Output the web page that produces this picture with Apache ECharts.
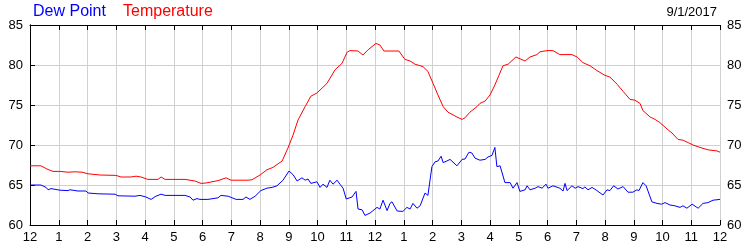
<!DOCTYPE html>
<html><head><meta charset="utf-8">
<script src="https://cdn.jsdelivr.net/npm/echarts@6/dist/echarts.min.js"></script>
<style>html,body{margin:0;padding:0;background:#fff}#c{width:750px;height:250px}</style>
</head><body><div id="c"></div>
<script>
const tickLabels = ['12','1','2','3','4','5','6','7','8','9','10','11','12','1','2','3','4','5','6','7','8','9','10','11','12'];
const yTicks = [60,65,70,75,80,85];
const dateText = '9/1/2017';

// hours since midnight, temperature (°F)
const tempHours = [0,0.38,0.59,0.80,1.04,1.32,1.57,1.81,2.02,2.43,2.99,3.17,3.51,3.69,3.86,4.10,4.45,4.56,4.70,5.39,5.74,5.95,6.12,6.54,6.82,6.99,7.58,7.72,8.0,8.24,8.45,8.77,8.97,9.15,9.32,9.57,9.77,9.98,10.33,10.61,10.85,11.03,11.13,11.41,11.58,11.76,12.03,12.17,12.31,12.52,12.83,13.04,13.22,13.39,13.67,13.84,14.02,14.19,14.37,14.54,14.85,15.03,15.13,15.30,15.55,15.65,15.83,16.0,16.17,16.31,16.45,16.63,16.90,17.22,17.39,17.63,17.74,17.98,18.19,18.43,18.85,19.03,19.23,19.48,19.72,20.0,20.17,20.42,20.63,20.87,21.04,21.22,21.32,21.57,21.74,21.91,22.16,22.33,22.54,22.71,22.89,23.06,23.30,23.58,23.90,24.0];
const tempValues = [67.4,67.4,67.0,66.7,66.7,66.6,66.65,66.6,66.4,66.25,66.2,66.0,66.0,66.1,66.0,65.7,65.7,66.0,65.7,65.7,65.5,65.2,65.25,65.55,65.9,65.6,65.6,65.65,66.25,66.9,67.2,68.0,69.6,71.25,73.1,74.8,76.1,76.5,77.7,79.4,80.2,81.6,81.8,81.75,81.25,81.9,82.7,82.5,81.75,81.75,81.75,80.7,80.5,80.1,79.8,79.2,77.7,76.25,74.8,74.1,73.5,73.2,73.4,74.1,74.8,75.2,75.5,76.25,77.5,78.7,79.9,80.1,81.0,80.5,81.0,81.3,81.65,81.8,81.8,81.3,81.3,81.0,80.3,79.9,79.3,78.7,78.5,77.6,76.7,75.7,75.6,75.2,74.3,73.5,73.2,72.8,72.0,71.5,70.7,70.6,70.3,70.0,69.7,69.4,69.25,69.1];

// hours since midnight, dew point (°F)
const dewHours = [0,0.38,0.56,0.63,0.73,0.97,1.04,1.32,1.39,1.67,1.95,2.02,2.37,2.96,3.06,3.65,3.83,4.03,4.21,4.38,4.56,4.70,5.39,5.57,5.67,5.81,5.91,6.19,6.54,6.64,6.89,7.17,7.41,7.51,7.65,7.83,8.03,8.24,8.42,8.59,8.80,9.01,9.15,9.29,9.46,9.57,9.67,9.77,9.98,10.09,10.19,10.33,10.43,10.54,10.68,10.78,10.89,11.0,11.20,11.34,11.41,11.55,11.65,11.83,12.07,12.17,12.28,12.42,12.52,12.59,12.77,12.97,13.11,13.22,13.32,13.46,13.57,13.74,13.84,13.98,14.09,14.19,14.30,14.37,14.50,14.61,14.85,15.03,15.13,15.27,15.37,15.48,15.65,15.83,15.93,16.07,16.17,16.24,16.35,16.52,16.70,16.80,16.94,17.04,17.22,17.29,17.39,17.57,17.67,17.81,17.95,18.02,18.19,18.43,18.54,18.61,18.68,18.85,18.96,19.06,19.23,19.30,19.41,19.55,19.72,19.93,20.07,20.17,20.30,20.45,20.63,20.80,20.97,21.11,21.18,21.32,21.43,21.63,21.81,21.97,22.09,22.26,22.43,22.61,22.71,22.85,23.03,23.24,23.41,23.58,23.76,24.0];
const dewValues = [65.0,65.0,64.7,64.4,64.55,64.4,64.35,64.3,64.4,64.25,64.25,64.0,63.9,63.85,63.65,63.6,63.7,63.5,63.2,63.6,63.85,63.7,63.7,63.5,63.1,63.3,63.2,63.2,63.4,63.7,63.6,63.2,63.2,63.5,63.2,63.6,64.3,64.6,64.7,64.9,65.6,66.75,66.3,65.5,65.9,65.6,65.75,65.2,65.4,64.7,65.1,64.7,65.6,65.1,65.6,65.1,64.6,63.25,63.5,64.2,62.0,61.9,61.2,61.5,62.2,62.0,63.1,61.8,62.7,62.9,61.75,61.7,62.2,62.0,62.7,62.1,62.4,64.0,63.7,67.3,67.9,68.0,68.6,67.8,68.0,68.2,67.4,68.2,68.25,69.1,69.0,68.35,68.1,68.2,68.5,68.7,69.7,67.3,67.4,65.3,65.3,64.6,65.3,64.2,64.4,64.9,64.4,64.6,64.8,64.6,65.1,64.6,64.9,64.6,64.25,65.2,64.3,64.9,64.6,64.8,64.55,64.75,64.4,64.7,64.3,63.75,64.4,64.3,64.9,64.5,64.8,64.1,64.1,64.4,64.3,65.3,64.9,62.9,62.7,62.6,62.8,62.5,62.4,62.2,62.4,62.1,62.6,62.1,62.7,62.8,63.1,63.2];

const FONT = '"Liberation Sans", Arial, sans-serif';
const zip = (a, b) => a.map((v, i) => [v, b[i]]);
const chart = echarts.init(document.getElementById('c'), null, {renderer: 'canvas'});
const gridCol = '#d0d0d0';
const yAxisBase = {
  type: 'value', min: yTicks[0], max: yTicks[yTicks.length - 1], interval: 5,
  axisLine: {show: true, lineStyle: {color: '#000', width: 1}},
  axisTick: {show: true, length: 5, lineStyle: {color: '#000'}},
  axisLabel: {color: '#000', fontSize: 13, fontFamily: FONT, margin: 7},
  splitLine: {show: false}
};
chart.setOption({
  animation: false,
  backgroundColor: '#fff',
  grid: {left: 30, right: 30, top: 25, bottom: 25, containLabel: false},
  graphic: [
    {type: 'text', left: 33, top: 4, style: {text: 'Dew Point', fill: '#0000ff', font: '16px ' + FONT}},
    {type: 'text', left: 123, top: 4, style: {text: 'Temperature', fill: '#ff0000', font: '16px ' + FONT}},
    {type: 'text', right: 33, top: 6, style: {text: dateText, fill: '#000', font: '13px ' + FONT}}
  ],
  xAxis: [
    {type: 'value', min: 0, max: 24, interval: 1, position: 'bottom',
     axisLine: {show: true, onZero: false, lineStyle: {color: '#000'}},
     axisTick: {show: true, inside: true, length: 5, lineStyle: {color: '#000'}},
     axisLabel: {color: '#000', fontSize: 13, fontFamily: FONT, margin: 6, showMinLabel: true, showMaxLabel: true,
       formatter: v => tickLabels[Math.round(v)]},
     splitLine: {show: true, lineStyle: {color: gridCol, width: 1}}},
    {type: 'value', min: 0, max: 24, interval: 1, position: 'top',
     axisLine: {show: true, onZero: false, lineStyle: {color: '#000'}},
     axisTick: {show: true, inside: true, length: 5, lineStyle: {color: '#000'}},
     axisLabel: {show: false}, splitLine: {show: false}}
  ],
  yAxis: [
    Object.assign({}, yAxisBase, {position: 'left', axisTick: {show: true, inside: true, length: 5, lineStyle: {color: '#000'}},
      splitLine: {show: true, lineStyle: {color: gridCol, width: 1}}}),
    Object.assign({}, yAxisBase, {position: 'right', axisTick: {show: true, inside: false, length: 5, lineStyle: {color: '#000'}}})
  ],
  series: [
    {type: 'line', name: 'Temperature', data: zip(tempHours, tempValues), showSymbol: false, symbol: 'none',
     lineStyle: {color: '#ff0000', width: 1}, z: 3},
    {type: 'line', name: 'Dew Point', data: zip(dewHours, dewValues), showSymbol: false, symbol: 'none',
     lineStyle: {color: '#0000ff', width: 1}, z: 4}
  ]
});
</script></body></html>
